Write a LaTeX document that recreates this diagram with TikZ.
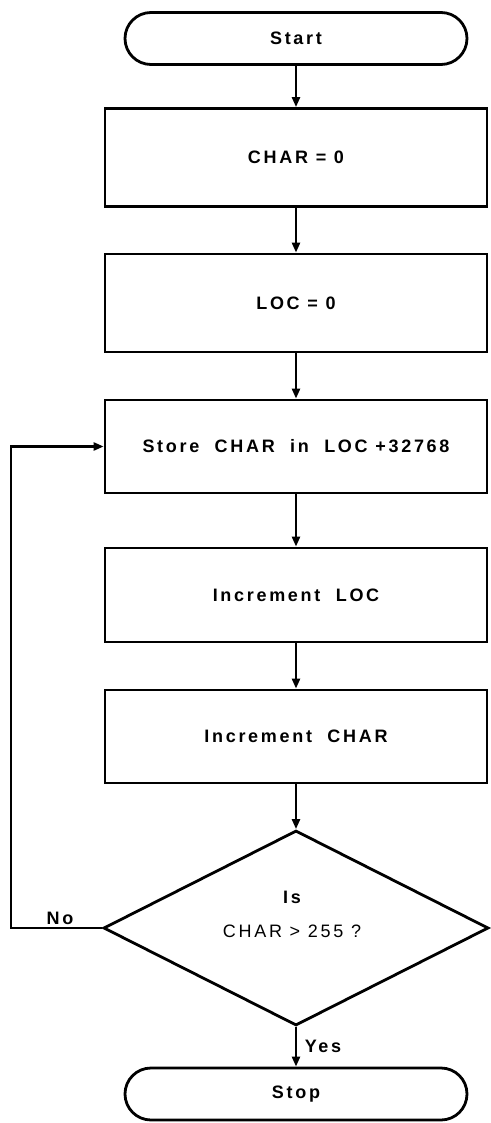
\documentclass[tikz,border=0pt]{standalone}
\usepackage{fontspec}
\setmainfont{Liberation Sans}[LetterSpace=15]
\usetikzlibrary{shapes.geometric,arrows.meta}
\tikzset{
  flow/.style={draw,line width=1.4pt},
  terminal/.style={flow,rectangle,rounded corners=13pt,minimum width=171pt,minimum height=26pt},
  process/.style={flow,rectangle,minimum width=191pt,minimum height=49pt},
  decision/.style={flow,diamond,inner sep=0pt,minimum width=192.5pt,minimum height=97.5pt},
  link/.style={line width=1.2pt,-{Triangle[length=5pt,width=4pt]}}
}
\begin{document}
\begin{tikzpicture}[x=0.5pt,y=-0.5pt,font=\bfseries\fontsize{9}{11}\selectfont]
\useasboundingbox (0,0) rectangle (491,1123);
\node[terminal] (start) at (296,38.5) {Start};
\node[process] (char0) at (296,157.5) {CHAR = 0};
\node[process] (loc0) at (296,303) {LOC = 0};
\node[process,minimum height=46.5pt] (store) at (296,446.5) {Store\ \ CHAR\ \ in\ \ LOC +32768};
\node[process,minimum height=47pt] (incloc) at (296,595) {Increment\ \ LOC};
\node[process,minimum height=46.5pt] (incchar) at (296,736.5) {Increment\ \ CHAR};
\node[decision] (test) at (296,928) {};
\node[align=center] (testtext) at (292,914) {Is\\[6pt]\mdseries CHAR > 255 ?};
\node[terminal] (stop) at (296,1094) {Stop};
\coordinate (back) at (11,928);
\draw[link] (start) -- (char0);
\draw[link] (char0) -- (loc0);
\draw[link] (loc0) -- (store);
\draw[link] (store) -- (incloc);
\draw[link] (incloc) -- (incchar);
\draw[link] (incchar) -- (test);
\draw[link] (test) -- (stop);
\draw[link] (test.west) -- (back) |- (store.west);
\node (no) at (60,918) {No};
\node (yes) at (323,1046) {Yes};
\end{tikzpicture}
\end{document}
